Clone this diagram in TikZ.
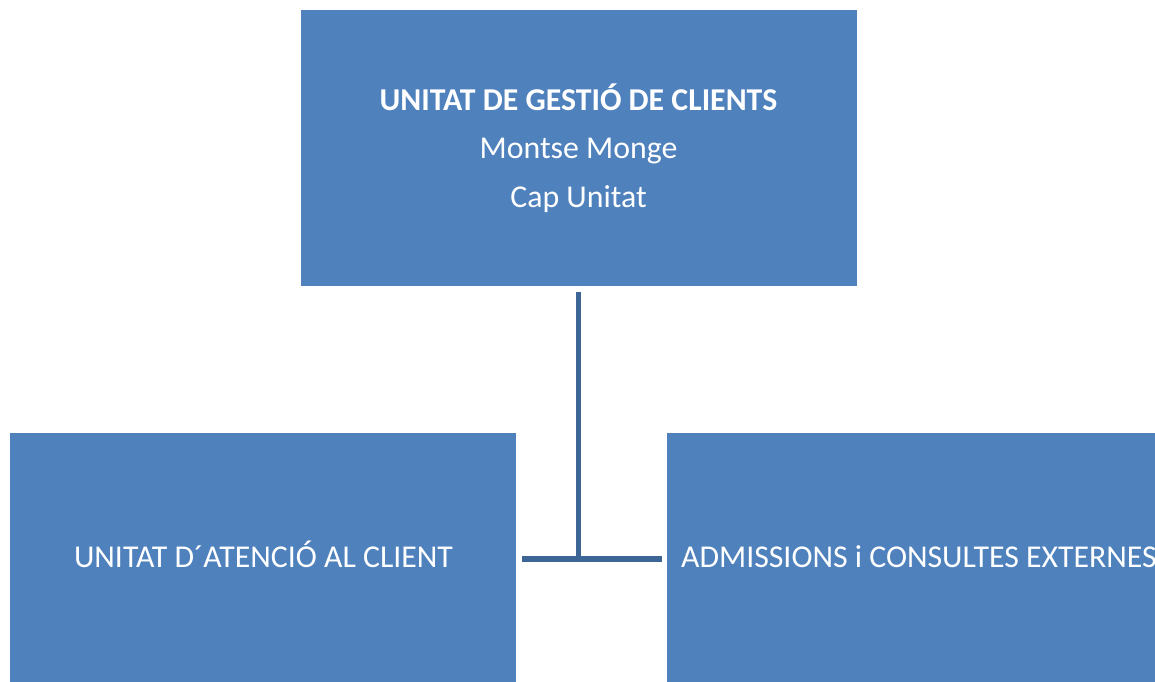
\documentclass[tikz,border=0pt]{standalone}
\usepackage{fontspec}
\setmainfont{Carlito}
\definecolor{boxblue}{HTML}{4F81BD}
\definecolor{lineblue}{HTML}{3D6596}
\begin{document}
\begin{tikzpicture}[x=1pt,y=-1pt,
  unitbox/.style={fill=boxblue,draw=none,text=white,inner sep=0pt,align=center,
    font=\fontsize{31.8}{48.5}\selectfont},
  lbl/.style={text=white,font=\fontsize{31.8}{48.5}\selectfont,inner sep=0pt,anchor=base},
  conn/.style={draw=lineblue,line width=5.5pt}]
\useasboundingbox (0,0) rectangle (1155,681);
\clip (0,0) rectangle (1155,681);
\fill[white] (0,0) rectangle (1155,681);
\node[unitbox,minimum width=556pt,minimum height=276pt] (top) at (578.5,148)
  {\textbf{UNITAT DE GESTIÓ DE CLIENTS}\\Montse Monge\\Cap Unitat};
\node[unitbox,minimum width=506pt,minimum height=300pt] (left) at (263,583) {};
\node[unitbox,minimum width=506pt,minimum height=300pt] (right) at (920,583) {};
\node[lbl] (ltext) at (263.5,567) {UNITAT D´ATENCIÓ AL CLIENT};
\node[lbl] (rtext) at (919,567) {ADMISSIONS i CONSULTES EXTERNES};
\coordinate (j) at (578.5,559);
\coordinate (ls) at (522,559);
\coordinate (rs) at (662,559);
\draw[conn] ([yshift=-6pt]top.south) -- (j);
\draw[conn] (ls) -- (rs);
\end{tikzpicture}
\end{document}
